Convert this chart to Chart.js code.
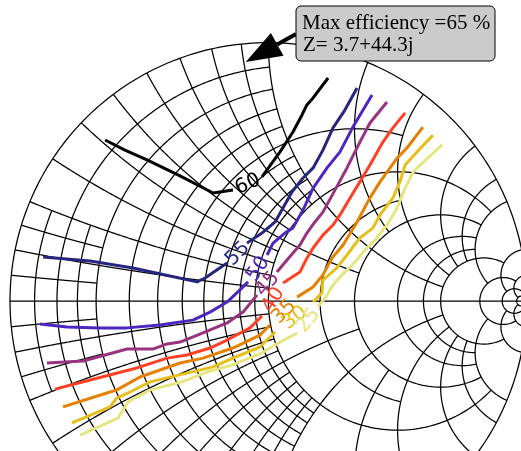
<!DOCTYPE html>
<html>
<head>
<meta charset="utf-8">
<script src="https://cdn.jsdelivr.net/npm/chart.js@4.4.1/dist/chart.umd.min.js"></script>
<style>
  html, body { margin: 0; padding: 0; background: #fff; }
  canvas { display: block; }
</style>
</head>
<body>
<canvas id="smith" width="521" height="451"></canvas>
<script>
// efficiency levels (%) and colours (CMRmap)
const levels = [60, 55, 50, 45, 40, 35, 30, 25];
const levelColors = ['#000000', '#262680', '#4d26bf', '#993380', '#ff4026', '#e68000', '#e6bf1a', '#e6e680'];

// contour traces as reflection coefficient [re, im]; null marks the inline label gap
const eff60 = [[-0.632,0.623],[-0.555,0.584],[-0.470,0.546],[-0.342,0.484],[-0.214,0.418],[-0.137,0.430], null,
  [-0.025,0.480],[0.045,0.577],[0.095,0.654],[0.130,0.720],[0.149,0.759],[0.173,0.786],[0.231,0.863]];
const eff55 = [[-0.872,0.170],[-0.690,0.155],[-0.524,0.128],[-0.381,0.097],[-0.276,0.074],[-0.245,0.089],[-0.160,0.147], null,
  [-0.083,0.224],[-0.025,0.263],[0.026,0.306],[0.091,0.422],[0.134,0.476],[0.173,0.515],[0.211,0.584],[0.250,0.670],[0.296,0.739],[0.343,0.824]];
const eff50 = [[-0.884,-0.089],[-0.779,-0.101],[-0.652,-0.104],[-0.547,-0.104],[-0.420,-0.093],[-0.292,-0.074],[-0.226,-0.043],[-0.160,-0.004],[-0.110,0.043],[-0.079,0.074], null,
  [-0.005,0.178],[0.018,0.224],[0.064,0.263],[0.095,0.283],[0.134,0.352],[0.173,0.437],[0.227,0.515],[0.277,0.577],[0.327,0.673],[0.401,0.797]];
const eff45 = [[-0.857,-0.240],[-0.717,-0.232],[-0.547,-0.186],[-0.447,-0.186],[-0.392,-0.166],[-0.342,-0.159],[-0.265,-0.128],[-0.160,-0.085],[-0.098,-0.043],[-0.044,0.023], null,
  [0.033,0.112],[0.072,0.159],[0.122,0.217],[0.149,0.263],[0.180,0.306],[0.211,0.344],[0.258,0.430],[0.304,0.515],[0.354,0.615],[0.393,0.689],[0.459,0.770]];
const eff40 = [[-0.826,-0.341],[-0.690,-0.306],[-0.509,-0.259],[-0.392,-0.221],[-0.315,-0.209],[-0.226,-0.182],[-0.160,-0.151],[-0.071,-0.104],[-0.025,-0.058], null,
  [0.057,0.070],[0.122,0.112],[0.149,0.166],[0.173,0.205],[0.211,0.255],[0.250,0.294],[0.277,0.333],[0.316,0.399],[0.354,0.461],[0.393,0.526],[0.443,0.615],[0.482,0.670],[0.529,0.728]];
const eff35 = [[-0.795,-0.410],[-0.625,-0.356],[-0.586,-0.344],[-0.497,-0.294],[-0.342,-0.240],[-0.253,-0.221],[-0.137,-0.182],[-0.033,-0.132],[0.006,-0.093], null,
  [0.111,0.015],[0.173,0.054],[0.211,0.101],[0.246,0.166],[0.289,0.217],[0.343,0.306],[0.393,0.399],[0.432,0.461],[0.498,0.553],[0.536,0.592],[0.598,0.673]];
const eff30 = [[-0.760,-0.472],[-0.613,-0.410],[-0.586,-0.375],[-0.543,-0.356],[-0.458,-0.313],[-0.315,-0.279],[-0.214,-0.255],[-0.137,-0.221],[-0.033,-0.178],[0.026,-0.120], null,
  [0.173,-0.004],[0.207,0.031],[0.211,0.081],[0.265,0.128],[0.304,0.178],[0.354,0.244],[0.405,0.283],[0.432,0.333],[0.482,0.399],[0.509,0.461],[0.529,0.526],[0.575,0.577],[0.637,0.642]];
const eff25 = [[-0.729,-0.519],[-0.582,-0.453],[-0.543,-0.391],[-0.458,-0.344],[-0.334,-0.313],[-0.238,-0.275],[-0.141,-0.248],[-0.033,-0.205],[0.026,-0.170],[0.111,-0.124], null,
  [0.192,-0.023],[0.227,0.023],[0.250,0.062],[0.285,0.101],[0.335,0.151],[0.374,0.197],[0.413,0.236],[0.459,0.294],[0.498,0.360],[0.529,0.437],[0.560,0.499],[0.587,0.526],[0.672,0.604]];
const contours = [eff60, eff55, eff50, eff45, eff40, eff35, eff30, eff25];

// maximum efficiency point (ohms)
const maxEff = 65;
const zMax = [3.7, 44.3];
const z0 = 50;

// smith grid: [value, end] -> r circle for |x| <= end, +-x arcs for r <= end
const gridValues = [[0.05, 0.2], [0.1, 1], [0.15, 0.2], [0.2, 1], [0.3, 1], [0.4, 1], [0.5, 2],
  [0.6, 1], [0.7, 1], [0.8, 1], [0.9, 1], [1, 5], [1.5, 2], [2, 5], [3, 5], [4, 5], [5, 10],
  [10, 20], [20, 50], [50, Infinity]];

// visible window of the gamma plane
const viewRe = [-1.0387, 0.9776];
const viewIm = [-0.5805, 1.1649];

function gamma(r, x) {
    const d = (r + 1) * (r + 1) + x * x;
    return [(r * r + x * x - 1) / d, 2 * x / d];
}

function splitAtGaps(pts) {
    const parts = [[]];
    pts.forEach(p => {
        if (p === null) parts.push([]);
        else parts[parts.length - 1].push({x: p[0], y: p[1]});
    });
    return parts;
}

const datasets = [];
contours.forEach((c, i) => {
    splitAtGaps(c).forEach(part => {
        datasets.push({
            data: part,
            showLine: true,
            borderColor: levelColors[i],
            borderWidth: 3,
            pointRadius: 0,
            fill: false,
            tension: 0,
            borderJoinStyle: 'round'
        });
    });
});

const smithGrid = {
    id: 'smithGrid',
    beforeDatasetsDraw(chart) {
        const {ctx, chartArea, scales} = chart;
        const toPx = g => [scales.x.getPixelForValue(g[0]), scales.y.getPixelForValue(g[1])];
        const N = 300;

        function path(pts) {
            ctx.beginPath();
            pts.forEach((g, i) => {
                const [a, b] = toPx(g);
                if (i === 0) ctx.moveTo(a, b);
                else ctx.lineTo(a, b);
            });
            ctx.stroke();
        }

        function rCircle(r, end) {
            const t = Math.atan(end);
            const pts = [];
            for (let i = 0; i <= N; i++)
                pts.push(gamma(r, Math.tan(-t + 2 * t * i / N)));
            path(pts);
        }

        function xArc(x, end) {
            const t = Math.atan(end);
            const pts = [];
            for (let i = 0; i <= N; i++)
                pts.push(gamma(Math.tan(t * i / N), x));
            path(pts);
        }

        ctx.save();
        ctx.beginPath();
        ctx.rect(chartArea.left, chartArea.top, chartArea.width, chartArea.height);
        ctx.clip();
        ctx.strokeStyle = '#000';
        ctx.lineWidth = 1.25;

        rCircle(0, Infinity);
        path([[-1, 0], [1, 0]]);
        gridValues.forEach(([v, end]) => {
            rCircle(v, end);
            xArc(v, end);
            xArc(-v, end);
        });
        ctx.restore();
    }
};

const labelsAndNote = {
    id: 'labelsAndNote',
    afterDatasetsDraw(chart) {
        const {ctx, chartArea, scales} = chart;
        const toPx = g => [scales.x.getPixelForValue(g[0]), scales.y.getPixelForValue(g[1])];

        // inline contour labels, centred in each gap and turned along the line
        ctx.save();
        ctx.font = '20px "DejaVu Sans"';
        ctx.textAlign = 'center';
        ctx.textBaseline = 'middle';
        contours.forEach((c, i) => {
            const k = c.indexOf(null);
            const [x1, y1] = toPx(c[k - 1]);
            const [x2, y2] = toPx(c[k + 1]);
            let ang = Math.atan2(y2 - y1, x2 - x1);
            if (ang > Math.PI / 2) ang -= Math.PI;
            if (ang < -Math.PI / 2) ang += Math.PI;
            ctx.save();
            ctx.translate((x1 + x2) / 2, (y1 + y2) / 2);
            ctx.rotate(ang);
            ctx.fillStyle = levelColors[i];
            ctx.fillText(String(levels[i]), 0, 1);
            ctx.restore();
        });
        ctx.restore();

        // annotation box with arrow to the max efficiency point
        const g = gamma(zMax[0] / z0, zMax[1] / z0);
        const [tx, ty] = toPx(g);
        const bx = chartArea.left + 296, by = chartArea.top + 6, bw = 199, bh = 55;
        const sx = bx, sy = by + 28;
        const len = Math.hypot(tx - sx, ty - sy);
        const ux = (tx - sx) / len, uy = (ty - sy) / len;
        const tipX = tx - ux * 6, tipY = ty - uy * 6;
        const headLen = 36, headHalf = 13;
        const baseX = tipX - ux * headLen, baseY = tipY - uy * headLen;

        ctx.save();
        ctx.strokeStyle = '#000';
        ctx.fillStyle = '#000';
        ctx.lineWidth = 4;
        ctx.beginPath();
        ctx.moveTo(sx, sy);
        ctx.lineTo(baseX, baseY);
        ctx.stroke();
        ctx.beginPath();
        ctx.moveTo(tipX, tipY);
        ctx.lineTo(baseX - uy * headHalf, baseY + ux * headHalf);
        ctx.lineTo(baseX + uy * headHalf, baseY - ux * headHalf);
        ctx.closePath();
        ctx.fill();

        const rad = 5;
        ctx.beginPath();
        ctx.moveTo(bx + rad, by);
        ctx.lineTo(bx + bw - rad, by);
        ctx.arcTo(bx + bw, by, bx + bw, by + rad, rad);
        ctx.lineTo(bx + bw, by + bh - rad);
        ctx.arcTo(bx + bw, by + bh, bx + bw - rad, by + bh, rad);
        ctx.lineTo(bx + rad, by + bh);
        ctx.arcTo(bx, by + bh, bx, by + bh - rad, rad);
        ctx.lineTo(bx, by + rad);
        ctx.arcTo(bx, by, bx + rad, by, rad);
        ctx.closePath();
        ctx.fillStyle = '#cbcbcb';
        ctx.fill();
        ctx.lineWidth = 1;
        ctx.stroke();

        ctx.fillStyle = '#000';
        ctx.font = '21px "Liberation Serif"';
        ctx.textAlign = 'left';
        ctx.textBaseline = 'alphabetic';
        ctx.fillText('Max efficiency =' + maxEff + ' %', bx + 6, by + 23);
        ctx.fillText('Z= ' + zMax[0] + '+' + zMax[1] + 'j', bx + 7, by + 45);
        ctx.restore();
    }
};

new Chart(document.getElementById('smith'), {
    type: 'scatter',
    data: {datasets: datasets},
    options: {
        responsive: false,
        animation: false,
        devicePixelRatio: 1,
        layout: {padding: 0},
        plugins: {
            legend: {display: false},
            tooltip: {enabled: false}
        },
        scales: {
            x: {type: 'linear', min: viewRe[0], max: viewRe[1], display: false},
            y: {type: 'linear', min: viewIm[0], max: viewIm[1], display: false}
        }
    },
    plugins: [smithGrid, labelsAndNote]
});
</script>
</body>
</html>
